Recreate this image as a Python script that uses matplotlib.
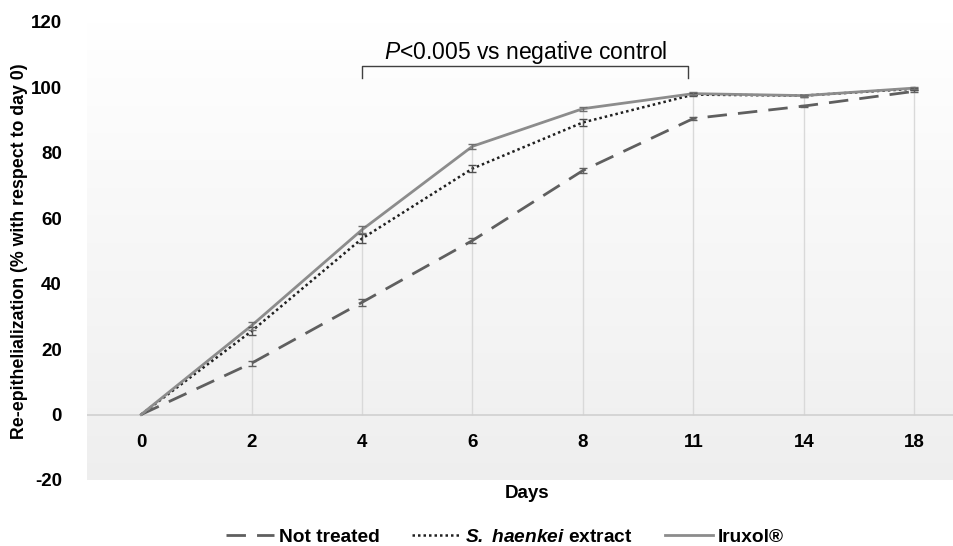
import numpy as np
import matplotlib.pyplot as plt

plt.rcParams['font.family'] = ['Liberation Sans', 'DejaVu Sans']
plt.rcParams['mathtext.fontset'] = 'custom'
plt.rcParams['mathtext.bfit'] = 'Liberation Sans:italic:bold'
plt.rcParams['mathtext.it'] = 'Liberation Sans:italic'
plt.rcParams['mathtext.rm'] = 'Liberation Sans'
plt.rcParams['axes.unicode_minus'] = False

days = ['0', '2', '4', '6', '8', '11', '14', '18']
not_treated = [0, 15.7, 34.3, 53.2, 74.6, 90.5, 94.3, 98.8]
not_treated_err = [0, 0.8, 1.0, 0.8, 0.8, 0.5, 0.3, 0.3]
haenkei = [0, 25.5, 53.8, 75.2, 89.3, 97.8, 97.5, 99.6]
haenkei_err = [0, 1.2, 1.5, 1.0, 1.0, 0.5, 0.3, 0.3]
iruxol = [0, 27.2, 56.5, 82.0, 93.5, 98.1, 97.5, 99.8]
iruxol_err = [0, 1.2, 1.0, 0.8, 0.6, 0.5, 0.3, 0.3]

x = np.arange(len(days))

fig = plt.figure(figsize=(9.54, 5.46), dpi=100)
ax = fig.add_axes([87/954, 1-480/546, 1-87/954, (480-22)/546])
ax.set_xlim(-0.49, 7.36)
ax.set_ylim(-20, 120)

# plot area gradient (white at top, light grey at bottom)
g = np.linspace(1.0, 0.935, 256)
grad = np.dstack([g, g, g]).reshape(256, 1, 3)
ax.imshow(grad, extent=[-0.49, 7.36, -20, 120], aspect='auto', zorder=0,
          origin='upper')

# drop lines
tops = np.maximum(np.maximum(not_treated, haenkei), iruxol)
ax.vlines(x[1:], 0, tops[1:], color='#d9d9d9', lw=1, zorder=1)
ax.axhline(0, color='#d0d0d0', lw=1.2, zorder=1)

l1, = ax.plot(x, not_treated, color='#5f5f5f', lw=2, dashes=(7, 4), zorder=3)
ax.errorbar(x[1:], not_treated[1:], yerr=not_treated_err[1:], fmt='none',
            ecolor='#606060', elinewidth=1, capsize=3, zorder=4)
l2, = ax.plot(x, haenkei, color='#202020', lw=1.8, ls=(0, (1, 1.2)), zorder=3)
ax.errorbar(x[1:], haenkei[1:], yerr=haenkei_err[1:], fmt='none',
            ecolor='#505050', elinewidth=1, capsize=3, zorder=4)
l3, = ax.plot(x, iruxol, color='#8c8c8c', lw=2, zorder=3)
ax.errorbar(x[1:], iruxol[1:], yerr=iruxol_err[1:], fmt='none',
            ecolor='#707070', elinewidth=1, capsize=3, zorder=4)

ax.set_xticks(x)
ax.set_xticklabels(days)
ax.set_yticks(np.arange(-20, 121, 20))
ax.spines['bottom'].set_position(('data', 0))
for s in ax.spines.values():
    s.set_visible(False)
ax.tick_params(axis='both', length=0, labelsize=13.5)
ax.tick_params(axis='x', pad=14)
ax.tick_params(axis='y', pad=18)
for t in ax.get_xticklabels() + ax.get_yticklabels():
    t.set_fontweight('bold')

ax.set_ylabel('Re-epithelialization (% with respect to day 0)', fontsize=12.8,
              fontweight='bold')
ax.yaxis.set_label_coords(-0.068, 0.5)
fig.text(527/954, 1-494/546, 'Days', ha='center', va='center', fontsize=13.5,
         fontweight='bold')

# significance bracket
ax.plot([2, 2, 4.95, 4.95], [102.8, 106.4, 106.4, 102.8], color='#404040',
        lw=1, zorder=5)
ax.text(3.48, 110.8, r'$\it{P}$<0.005 vs negative control', ha='center',
        va='center', fontsize=16.5)

leg = fig.legend([l1, l2, l3],
                 ['Not treated', r'$\mathbfit{S.}$ $\mathbfit{haenkei}$ extract',
                  'Iruxol®'],
                 loc='center', bbox_to_anchor=(0.529, 1-537/546), ncol=3,
                 frameon=False, handlelength=2.5, columnspacing=1.7,
                 handletextpad=0.25, prop={'size': 13.8, 'weight': 'bold'})

fig.savefig('out.png', dpi=100)
